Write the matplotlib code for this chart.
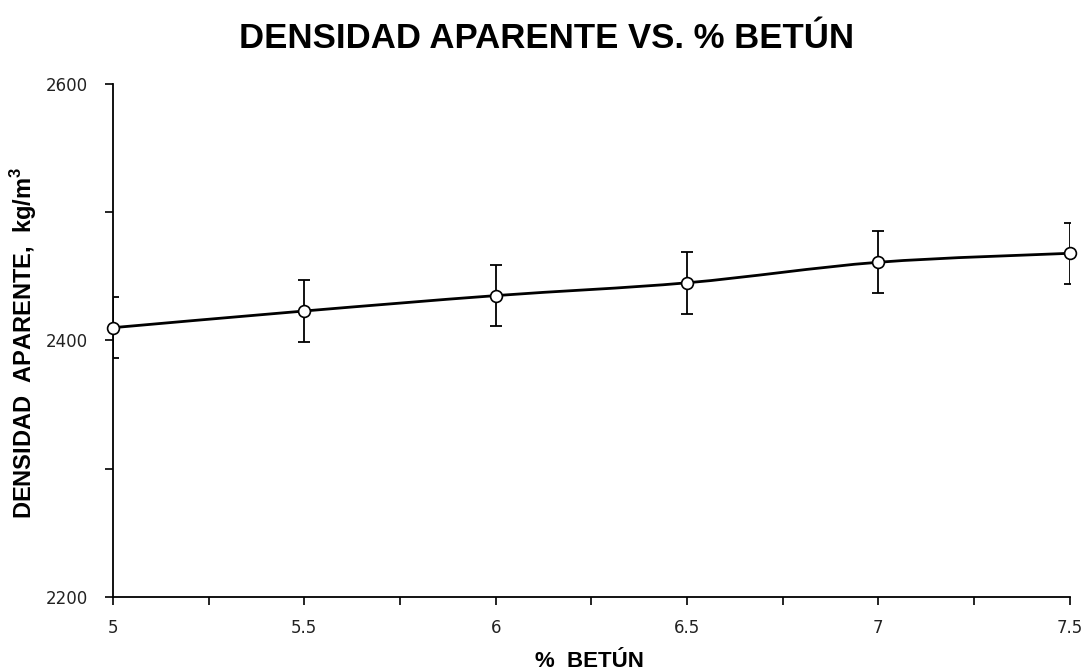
import numpy as np
import matplotlib
matplotlib.use("Agg")
import matplotlib.pyplot as plt
from matplotlib.path import Path
from matplotlib.patches import PathPatch
from matplotlib.ticker import MultipleLocator

# % betun vs densidad aparente (kg/m3), with +/- error
betun = [5.0, 5.5, 6.0, 6.5, 7.0, 7.5]
densidad = [2410, 2423, 2435, 2445, 2461, 2468]
error = [24, 24, 24, 24, 24, 24]


def smooth_path(xs, ys):
    '''bezier path through the points, like a spreadsheet "smoothed line"'''
    pts = np.column_stack([xs, ys]).astype(float)
    verts = [pts[0]]
    codes = [Path.MOVETO]
    n = len(pts)
    for i in range(n - 1):
        p0 = pts[i - 1] if i > 0 else pts[i]
        p1 = pts[i]
        p2 = pts[i + 1]
        p3 = pts[i + 2] if i + 2 < n else pts[i + 1]
        c1 = p1 + (p2 - p0) / 6.0
        c2 = p2 - (p3 - p1) / 6.0
        verts += [c1, c2, p2]
        codes += [Path.CURVE4] * 3
    return Path(verts, codes)


fig = plt.figure(figsize=(10.86, 6.71), dpi=100)
ax = fig.add_axes([0.104, 0.1103, 0.881, 0.7645])

ax.add_patch(PathPatch(smooth_path(betun, densidad), facecolor="none",
                       edgecolor="black", linewidth=2.0, zorder=3))
ax.errorbar(betun, densidad, yerr=error, fmt="none", ecolor="black",
            elinewidth=1.3, capsize=4.5, capthick=1.3, zorder=2)
ax.plot(betun, densidad, linestyle="none", marker="o", markersize=8.5,
        markerfacecolor="white", markeredgecolor="black",
        markeredgewidth=1.2, zorder=4, clip_on=False)

ax.set_xlim(5, 7.5)
ax.set_ylim(2200, 2600)
ax.xaxis.set_major_locator(MultipleLocator(0.5))
ax.xaxis.set_minor_locator(MultipleLocator(0.25))
ax.yaxis.set_major_locator(MultipleLocator(200))
ax.yaxis.set_minor_locator(MultipleLocator(100))
ax.set_xticklabels([f"{v:g}" for v in ax.get_xticks()])

for side in ["top", "right"]:
    ax.spines[side].set_visible(False)
for side in ["left", "bottom"]:
    ax.spines[side].set_linewidth(1.3)

ax.tick_params(which="both", direction="out", length=6, width=1.2,
               labelsize=12, labelcolor="#222222")
ax.tick_params(axis="x", pad=10)
ax.tick_params(axis="y", pad=12)

fig.suptitle("DENSIDAD APARENTE VS. % BETÚN", x=0.503, y=0.967,
             fontsize=25, fontweight="bold", family="Liberation Sans")
# axis titles placed by hand so they sit at the figure edges
fig.text(0.543, 0.006, "%  BETÚN", fontsize=16, fontweight="bold",
         family="Liberation Sans", ha="center", va="baseline")
fig.text(0.022, 0.489, "DENSIDAD  APARENTE,  kg/m$^\\mathregular{3}$",
         fontsize=17, fontweight="bold", family="Liberation Sans",
         rotation=90, ha="center", va="center")

fig.savefig("out.png", dpi=100)
